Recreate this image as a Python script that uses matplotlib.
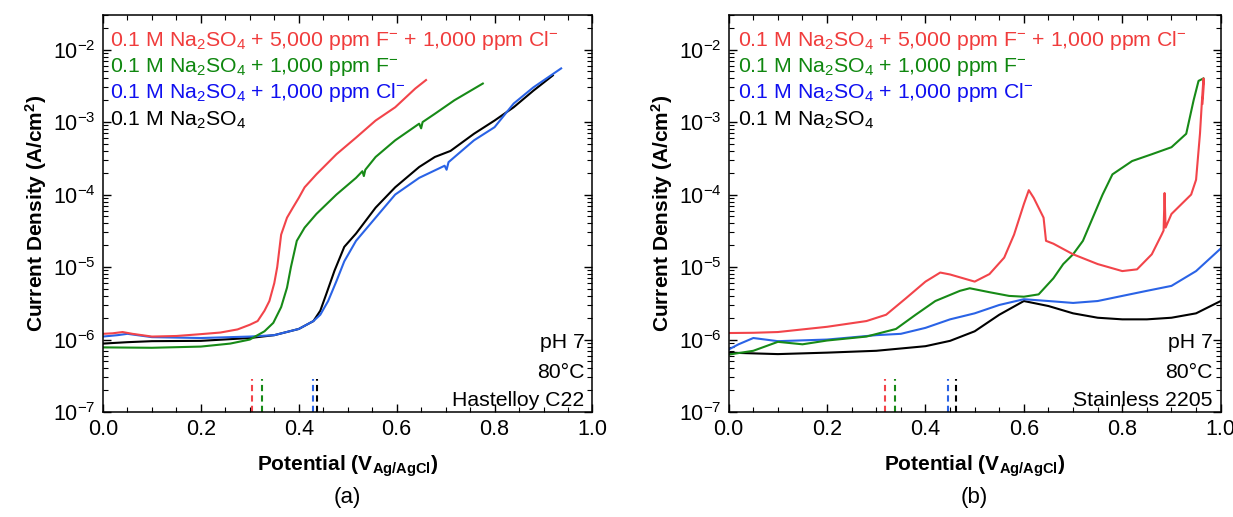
#import libraries
import matplotlib
matplotlib.use('Agg')
from matplotlib import pyplot as plt
from matplotlib.ticker import MultipleLocator, LogLocator, NullFormatter

plt.rcParams['font.family'] = ['Liberation Sans', 'DejaVu Sans']
plt.rcParams['mathtext.fontset'] = 'custom'
plt.rcParams['mathtext.rm'] = 'Liberation Sans'
plt.rcParams['mathtext.it'] = 'Liberation Sans:italic'
plt.rcParams['mathtext.bf'] = 'Liberation Sans:bold'

#colours
RED = '#f2444a'
GREEN = '#178a17'
BLUE = '#2a63e6'
BLACK = '#000000'

#panel (a) Hastelloy C22: potential (V) and current density (A/cm2)
a_red_x = [0.0, 0.02, 0.04, 0.06, 0.1, 0.15, 0.195, 0.24, 0.275, 0.3, 0.316, 0.33, 0.34,
           0.35, 0.356, 0.364, 0.376, 0.388, 0.4, 0.412, 0.436, 0.477, 0.517, 0.557, 0.597,
           0.638, 0.66]
a_red_y = [1.2e-6, 1.22e-6, 1.27e-6, 1.2e-6, 1.1e-6, 1.12e-6, 1.18e-6, 1.25e-6, 1.38e-6, 1.6e-6,
           1.8e-6, 2.5e-6, 3.4e-6, 6e-6, 1e-5, 2.8e-5, 4.8e-5, 6.6e-5, 9e-5, 1.26e-4, 1.9e-4,
           3.6e-4, 6.1e-4, 1.05e-3, 1.6e-3, 2.9e-3, 3.8e-3]

a_green_x = [0.0, 0.1, 0.2, 0.26, 0.3, 0.33, 0.348, 0.364, 0.376, 0.384, 0.396, 0.412, 0.436,
             0.477, 0.517, 0.53, 0.533, 0.536, 0.557, 0.597, 0.646, 0.65, 0.653, 0.678, 0.718, 0.776]
a_green_y = [7.8e-7, 7.7e-7, 8e-7, 8.8e-7, 1e-6, 1.3e-6, 1.7e-6, 2.8e-6, 5.2e-6, 1e-5, 2.3e-5,
             3.5e-5, 5.4e-5, 1.0e-4, 1.7e-4, 2.1e-4, 1.8e-4, 2.2e-4, 3.3e-4, 5.6e-4, 9.5e-4,
             8.2e-4, 1.0e-3, 1.3e-3, 2e-3, 3.4e-3]

a_blue_x = [0.0, 0.03, 0.05, 0.1, 0.2, 0.3, 0.35, 0.4, 0.43, 0.444, 0.46, 0.477, 0.493, 0.517,
            0.557, 0.597, 0.646, 0.698, 0.702, 0.706, 0.758, 0.8, 0.839, 0.879, 0.936]
a_blue_y = [1.1e-6, 1.15e-6, 1.2e-6, 1.08e-6, 1.05e-6, 1.1e-6, 1.15e-6, 1.4e-6, 1.8e-6, 2.2e-6,
            3.4e-6, 6.4e-6, 1.2e-5, 2.3e-5, 4.8e-5, 1e-4, 1.7e-4, 2.5e-4, 2.2e-4, 2.8e-4,
            5.6e-4, 8.5e-4, 1.8e-3, 3e-3, 5.5e-3]

a_black_x = [0.0, 0.05, 0.1, 0.2, 0.3, 0.35, 0.4, 0.43, 0.444, 0.456, 0.473, 0.493, 0.517, 0.557,
             0.597, 0.646, 0.678, 0.71, 0.758, 0.8, 0.839, 0.879, 0.919]
a_black_y = [8.8e-7, 9.2e-7, 9.5e-7, 9.6e-7, 1.05e-6, 1.15e-6, 1.4e-6, 1.8e-6, 2.5e-6, 4.2e-6,
             8.9e-6, 1.9e-5, 2.9e-5, 6.6e-5, 1.26e-4, 2.4e-4, 3.3e-4, 4e-4, 6.9e-4, 1.05e-3,
             1.6e-3, 2.7e-3, 4.4e-3]

#panel (b) Stainless 2205
b_red_x = [0.0, 0.05, 0.1, 0.2, 0.28, 0.32, 0.36, 0.4, 0.43, 0.45, 0.5, 0.53, 0.56, 0.58, 0.6,
           0.61, 0.62, 0.64, 0.645, 0.66, 0.7, 0.75, 0.8, 0.83, 0.86, 0.88, 0.884, 0.886, 0.888,
           0.9, 0.94, 0.95, 0.958, 0.962, 0.965, 0.966, 0.963]
b_red_y = [1.23e-6, 1.24e-6, 1.27e-6, 1.5e-6, 1.8e-6, 2.2e-6, 3.7e-6, 6.3e-6, 8.4e-6, 7.9e-6,
           6.3e-6, 8e-6, 1.35e-5, 2.8e-5, 7.4e-5, 1.15e-4, 9e-5, 4.8e-5, 2.3e-5, 2.1e-5, 1.5e-5,
           1.1e-5, 8.8e-6, 9.3e-6, 1.5e-5, 2.8e-5, 3.2e-5, 1.05e-4, 3.5e-5, 5.4e-5, 1e-4, 1.6e-4,
           7e-4, 2e-3, 4e-3, 3.5e-3, 1.8e-3]

b_green_x = [0.0, 0.05, 0.1, 0.15, 0.2, 0.28, 0.34, 0.38, 0.42, 0.47, 0.49, 0.53, 0.57, 0.6,
             0.63, 0.66, 0.68, 0.7, 0.72, 0.74, 0.76, 0.78, 0.82, 0.86, 0.9, 0.93, 0.945, 0.955,
             0.965]
b_green_y = [6.2e-7, 7e-7, 9.3e-7, 8.6e-7, 9.7e-7, 1.1e-6, 1.4e-6, 2.2e-6, 3.4e-6, 4.7e-6, 5.1e-6,
             4.5e-6, 4e-6, 3.9e-6, 4.2e-6, 7e-6, 1.1e-5, 1.5e-5, 2.3e-5, 4.8e-5, 1e-4, 1.9e-4,
             2.9e-4, 3.6e-4, 4.5e-4, 6.9e-4, 2e-3, 3.7e-3, 4e-3]

b_blue_x = [0.0, 0.02, 0.05, 0.1, 0.2, 0.3, 0.35, 0.4, 0.45, 0.5, 0.55, 0.6, 0.65, 0.7, 0.75,
            0.8, 0.85, 0.9, 0.95, 1.0]
b_blue_y = [7.3e-7, 8.6e-7, 1.05e-6, 9.5e-7, 1e-6, 1.15e-6, 1.2e-6, 1.45e-6, 1.9e-6, 2.3e-6,
            3e-6, 3.6e-6, 3.4e-6, 3.2e-6, 3.4e-6, 4e-6, 4.7e-6, 5.5e-6, 8.8e-6, 1.8e-5]

b_black_x = [0.0, 0.1, 0.2, 0.3, 0.4, 0.45, 0.5, 0.55, 0.6, 0.65, 0.7, 0.75, 0.8, 0.85, 0.9,
             0.95, 1.0]
b_black_y = [6.6e-7, 6.3e-7, 6.6e-7, 7e-7, 8.1e-7, 9.6e-7, 1.3e-6, 2.2e-6, 3.4e-6, 2.9e-6,
             2.3e-6, 2e-6, 1.9e-6, 1.9e-6, 2e-6, 2.3e-6, 3.4e-6]

#dashed marker positions (red, green, blue, black)
a_marks = [0.305, 0.325, 0.43, 0.437]
b_marks = [0.318, 0.338, 0.445, 0.463]

labels = ['0.1 M Na$_2$SO$_4$ + 5,000 ppm F$^{-}$ + 1,000 ppm Cl$^{-}$',
          '0.1 M Na$_2$SO$_4$ + 1,000 ppm F$^{-}$',
          '0.1 M Na$_2$SO$_4$ + 1,000 ppm Cl$^{-}$',
          '0.1 M Na$_2$SO$_4$']
label_colors = ['#f03c3c', '#0f870f', '#1010f0', BLACK]
line_colors = [RED, GREEN, BLUE, BLACK]

fig = plt.figure(figsize=(12.33, 5.17), dpi=100)
ax1 = fig.add_axes([0.0835, 0.203, 0.397, 0.768])
ax2 = fig.add_axes([0.591, 0.203, 0.399, 0.768])

panels = [
    (ax1, [(a_red_x, a_red_y), (a_green_x, a_green_y), (a_blue_x, a_blue_y), (a_black_x, a_black_y)],
     a_marks, 'Hastelloy C22', '(a)', 0.014),
    (ax2, [(b_red_x, b_red_y), (b_green_x, b_green_y), (b_blue_x, b_blue_y), (b_black_x, b_black_y)],
     b_marks, 'Stainless 2205', '(b)', 0.018),
]

for ax, curves, marks, alloy, tag, lx in panels:
    #draw black first so coloured lines sit on top, like the original
    for i in [3, 2, 1, 0]:
        x, y = curves[i]
        ax.plot(x, y, color=line_colors[i], lw=1.5)
    for m, c in zip(marks, line_colors):
        ax.plot([m, m], [1e-7, 2.9e-7], color=c, lw=1.5, ls=(0, (3, 2)))
    ax.set_yscale('log')
    ax.set_xlim(0, 1)
    ax.set_ylim(1e-7, 3e-2)
    ax.xaxis.set_major_locator(MultipleLocator(0.2))
    ax.xaxis.set_minor_locator(MultipleLocator(0.05))
    ax.yaxis.set_major_locator(LogLocator(base=10, numticks=10))
    ax.yaxis.set_minor_locator(LogLocator(base=10, subs=range(2, 10), numticks=10))
    ax.yaxis.set_minor_formatter(NullFormatter())
    ax.tick_params(which='both', direction='in', top=True, right=True, labelsize=15.5)
    ax.tick_params(which='major', length=6, width=1, pad=5)
    ax.tick_params(which='minor', length=3.5, width=0.8)
    for s in ax.spines.values():
        s.set_linewidth(1.1)
    ax.set_xlabel('Potential (V$_{\\mathbf{Ag/AgCl}}$)', fontsize=15, fontweight='bold', labelpad=10)
    ax.set_ylabel('Current Density (A/cm$^\\mathbf{2}$)', fontsize=15, fontweight='bold', labelpad=3)
    ypos = [0.937, 0.869, 0.804, 0.735]
    for lab, col, yp in zip(labels, label_colors, ypos):
        ax.text(lx, yp, lab, color=col, fontsize=15.3, transform=ax.transAxes, va='center', ha='left')
    ax.text(0.984, 0.174, 'pH 7', fontsize=15.3, transform=ax.transAxes, ha='right', va='center')
    ax.text(0.984, 0.10, '80°C', fontsize=15.3, transform=ax.transAxes, ha='right', va='center')
    ax.text(0.984, 0.03, alloy, fontsize=15.3, transform=ax.transAxes, ha='right', va='center')
    ax.text(0.5, -0.215, tag, fontsize=16, transform=ax.transAxes, ha='center', va='center')

plt.savefig('out.png', dpi=100)
